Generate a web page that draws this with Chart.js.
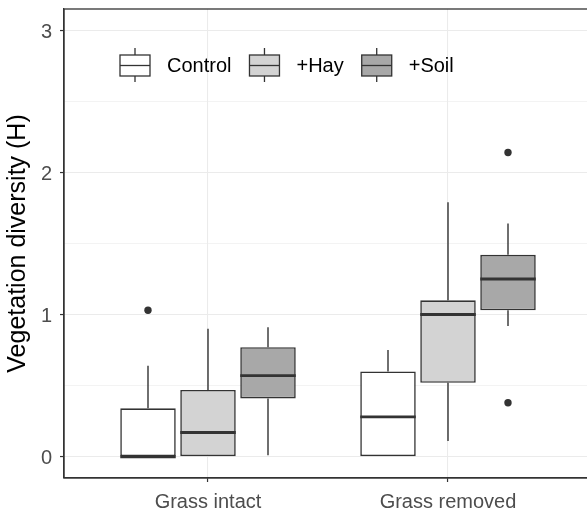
<!DOCTYPE html>
<html><head><meta charset="utf-8">
<script src="https://cdn.jsdelivr.net/npm/chart.js@4"></script>
<style>html,body{margin:0;padding:0;overflow:hidden;background:#fff}#wrap{width:600px;height:512px;position:relative}</style>
</head><body><div id="wrap"><canvas id="c"></canvas></div>
<script>
const categories = ['Grass intact', 'Grass removed'];
const seriesNames = ['Control', '+Hay', '+Soil'];
const seriesFill = ['#ffffff', '#d3d3d3', '#a8a8a8'];

const controlLower = [0.00, 0.00];
const controlQ1 = [0.00, 0.00];
const controlMedian = [0.00, 0.28];
const controlQ3 = [0.34, 0.60];
const controlUpper = [0.64, 0.75];
const controlOutliers = [[1.03], []];

const hayLower = [0.00, 0.11];
const hayQ1 = [0.00, 0.52];
const hayMedian = [0.17, 1.00];
const hayQ3 = [0.47, 1.10];
const hayUpper = [0.90, 1.79];
const hayOutliers = [[], []];

const soilLower = [0.01, 0.92];
const soilQ1 = [0.41, 1.03];
const soilMedian = [0.57, 1.25];
const soilQ3 = [0.77, 1.42];
const soilUpper = [0.91, 1.64];
const soilOutliers = [[], [2.14, 0.38]];

const yMajorTicks = [0, 1, 2, 3];
const yMinorTicks = [0.5, 1.5, 2.5];
const yAxisTitle = 'Vegetation diversity (H)';

const stats = [
  {lower: controlLower, q1: controlQ1, med: controlMedian, q3: controlQ3, upper: controlUpper, out: controlOutliers},
  {lower: hayLower, q1: hayQ1, med: hayMedian, q3: hayQ3, upper: hayUpper, out: hayOutliers},
  {lower: soilLower, q1: soilQ1, med: soilMedian, q3: soilQ3, upper: soilUpper, out: soilOutliers}
];

const FAM = "'Liberation Sans', Arial, sans-serif";
const DARK = '#333333';
const DODGE = 0.25;
const dodgeX = (ci, si) => (ci + 1) + (si - (seriesNames.length - 1) / 2) * DODGE;

const boxDatasets = seriesNames.map((name, si) => ({
  type: 'bar',
  label: name,
  data: categories.map((c, ci) => ({x: dodgeX(ci, si), y: [stats[si].q1[ci], stats[si].q3[ci]]})),
  backgroundColor: seriesFill[si],
  borderColor: DARK,
  borderWidth: 1.6,
  borderSkipped: false,
  grouped: false,
  categoryPercentage: 1,
  barPercentage: 0.925,
  order: 2
}));

const outlierPoints = [];
seriesNames.forEach((n, si) => categories.forEach((c, ci) => stats[si].out[ci].forEach(v => outlierPoints.push({x: dodgeX(ci, si), y: v}))));

const outlierDataset = {
  type: 'scatter',
  label: 'outliers',
  data: outlierPoints,
  pointRadius: 3.7,
  pointBackgroundColor: DARK,
  pointBorderWidth: 0,
  order: 1
};

const boxPlugin = {
  id: 'boxExtras',
  afterDatasetsDraw(chart) {
    const ctx = chart.ctx;
    const ys = chart.scales.y;
    const area = chart.chartArea;
    ctx.save();
    ctx.beginPath();
    ctx.rect(area.left, area.top, area.right - area.left, area.bottom - area.top);
    ctx.clip();
    seriesNames.forEach((n, si) => {
      const meta = chart.getDatasetMeta(si);
      categories.forEach((c, ci) => {
        const el = meta.data[ci];
        const cx = el.x, hw = el.width / 2;
        const s = stats[si];
        ctx.strokeStyle = DARK;
        ctx.lineWidth = 1.4;
        ctx.beginPath();
        if (s.upper[ci] > s.q3[ci]) {
          ctx.moveTo(cx, ys.getPixelForValue(s.q3[ci]));
          ctx.lineTo(cx, ys.getPixelForValue(s.upper[ci]));
        }
        if (s.lower[ci] < s.q1[ci]) {
          ctx.moveTo(cx, ys.getPixelForValue(s.q1[ci]));
          ctx.lineTo(cx, ys.getPixelForValue(s.lower[ci]));
        }
        ctx.stroke();
        ctx.lineWidth = 2.9;
        ctx.beginPath();
        const my = ys.getPixelForValue(s.med[ci]);
        ctx.moveTo(cx - hw, my);
        ctx.lineTo(cx + hw, my);
        ctx.stroke();
      });
    });
    ctx.restore();

    // panel border
    ctx.save();
    ctx.strokeStyle = DARK;
    ctx.lineWidth = 1.3;
    ctx.strokeRect(area.left, area.top, area.right - area.left, area.bottom - area.top);
    ctx.restore();

    // legend
    ctx.save();
    ctx.font = '20px ' + FAM;
    ctx.textBaseline = 'middle';
    let x = 120;
    const cy = 65.5;
    seriesNames.forEach((name, si) => {
      ctx.strokeStyle = DARK;
      ctx.lineWidth = 1.3;
      ctx.beginPath();
      ctx.moveTo(x + 15, 48); ctx.lineTo(x + 15, 55);
      ctx.moveTo(x + 15, 76); ctx.lineTo(x + 15, 82);
      ctx.stroke();
      ctx.fillStyle = seriesFill[si];
      ctx.fillRect(x, 55, 30, 21);
      ctx.strokeRect(x, 55, 30, 21);
      ctx.beginPath();
      ctx.moveTo(x, cy); ctx.lineTo(x + 30, cy);
      ctx.stroke();
      ctx.fillStyle = '#000';
      ctx.fillText(name, x + 47, cy + 1);
      x += 47 + ctx.measureText(name).width + 18;
    });
    ctx.restore();
  }
};

new Chart(document.getElementById('c'), {
  data: {datasets: [...boxDatasets, outlierDataset]},
  options: {
    responsive: true,
    maintainAspectRatio: false,
    animation: false,
    layout: {padding: {top: 9, right: 8, left: 0, bottom: 0}},
    plugins: {legend: {display: false}, tooltip: {enabled: false}},
    scales: {
      x: {
        type: 'linear',
        min: 0.4,
        max: 2.6,
        offset: false,
        afterBuildTicks: s => { s.ticks = categories.map((c, i) => ({value: i + 1})); },
        ticks: {
          callback: v => categories[Math.round(v) - 1],
          color: '#4d4d4d',
          font: {size: 20, family: FAM},
          padding: 8,
          maxRotation: 0,
          autoSkip: false
        },
        grid: {offset: false, color: '#ebebeb', lineWidth: 1.07, tickColor: DARK, tickLength: 4, tickWidth: 1.2},
        border: {color: DARK, width: 1.3},
        afterFit: s => { s.height = 34; s.paddingLeft = 0; s.paddingRight = 0; }
      },
      y: {
        type: 'linear',
        min: -0.15,
        max: 3.15,
        afterBuildTicks: s => { s.ticks = [...yMajorTicks, ...yMinorTicks].sort((a, b) => a - b).map(v => ({value: v})); },
        ticks: {
          callback: v => yMajorTicks.includes(v) ? String(v) : '',
          color: '#4d4d4d',
          font: {size: 20, family: FAM},
          padding: 8,
          labelOffset: 2,
          autoSkip: false
        },
        grid: {
          color: '#ebebeb',
          lineWidth: c => (c.tick && yMajorTicks.includes(c.tick.value)) ? 1.07 : 0.6,
          tickColor: c => (c.tick && yMajorTicks.includes(c.tick.value)) ? DARK : 'rgba(0,0,0,0)',
          tickLength: 4,
          tickWidth: 1.2
        },
        border: {color: DARK, width: 1.3},
        title: {display: true, text: yAxisTitle, color: '#000', font: {size: 25, family: FAM, lineHeight: 1}, padding: {top: 6, bottom: 0}},
        afterFit: s => { s.width = 64; s.paddingTop = 0; s.paddingBottom = 0; }
      }
    }
  },
  plugins: [boxPlugin]
});
</script>
</body></html>
